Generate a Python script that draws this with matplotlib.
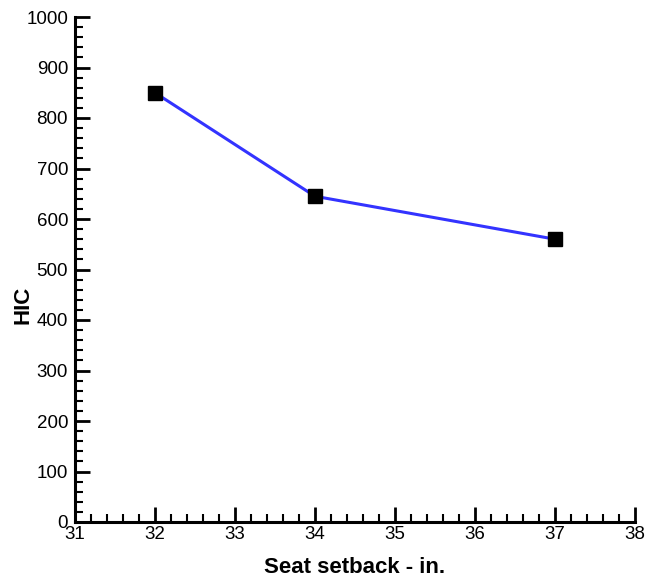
import matplotlib.pyplot as plt
from matplotlib.ticker import MultipleLocator

plt.rcParams['font.family'] = ['Liberation Sans', 'DejaVu Sans']

setback = [32, 34, 37]
hic = [850, 645, 560]

fig = plt.figure(figsize=(6.46, 5.83), dpi=100)
ax = fig.add_axes([75/646, 61/583, 560/646, 505/583])

ax.plot(setback, hic, color='#3333ff', lw=2.2, zorder=2)
ax.plot(setback, hic, ls='none', marker='s', ms=10, color='black', zorder=3)

ax.set_xlim(31, 38)
ax.set_ylim(0, 1000)
ax.xaxis.set_major_locator(MultipleLocator(1))
ax.xaxis.set_minor_locator(MultipleLocator(0.2))
ax.yaxis.set_major_locator(MultipleLocator(100))
ax.yaxis.set_minor_locator(MultipleLocator(20))

for s in ['top', 'right']:
    ax.spines[s].set_visible(False)
for s in ['left', 'bottom']:
    ax.spines[s].set_linewidth(2.2)

ax.tick_params(which='major', direction='in', length=11, width=2, labelsize=13.5)
ax.tick_params(axis='y', which='major', pad=5)
ax.tick_params(axis='x', which='major', pad=3)
ax.tick_params(which='minor', direction='in', length=6, width=1.5)

ax.set_xlabel('Seat setback - in.', fontsize=16, fontweight='bold', labelpad=10)
ax.set_ylabel('HIC', fontsize=16, fontweight='bold')
ax.yaxis.set_label_coords(-0.074, 0.43)

fig.savefig('out.png', dpi=100)
